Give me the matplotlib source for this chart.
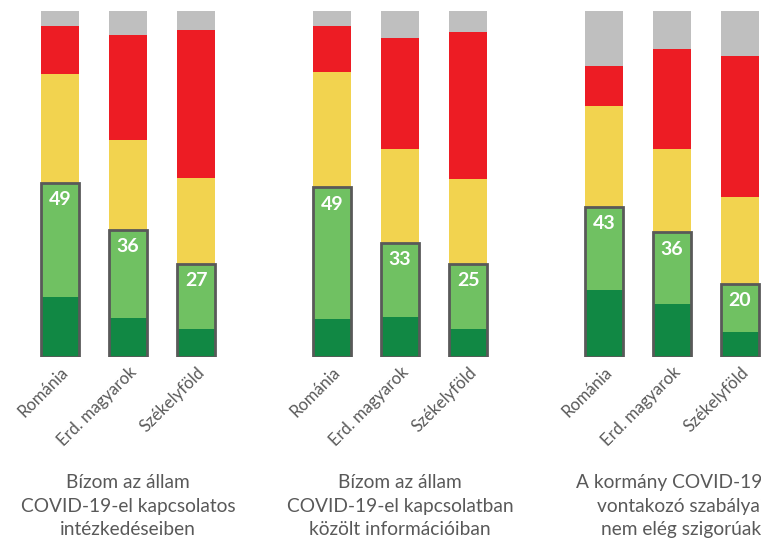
import numpy as np
import matplotlib
matplotlib.use("Agg")
import matplotlib.pyplot as plt

plt.rcParams['font.family'] = ['Lato', 'DejaVu Sans']

categories = ['Románia', 'Erd. magyarok', 'Székelyföld']
titles = ['Bízom az állam\nCOVID-19-el kapcsolatos\nintézkedéseiben',
          'Bízom az állam\nCOVID-19-el kapcsolatban\nközölt információiban',
          'A kormány COVID-19-re\nvontakozó szabályai\nnem elég szigorúak']

# percentages, 9 bars (3 questions x 3 groups)
dark_green = [17.3, 11.4, 8.1, 11.0, 11.7, 8.1, 19.4, 15.4, 7.2]
light_green = [33.1, 25.3, 18.8, 38.0, 21.3, 18.8, 24.0, 20.6, 14.0]
yellow = [31.3, 26.0, 24.7, 33.4, 27.0, 24.6, 29.2, 24.1, 25.0]
red = [14.0, 30.5, 43.0, 13.3, 32.1, 42.5, 11.5, 28.9, 40.7]
grey = [4.3, 6.8, 5.4, 4.3, 7.9, 6.0, 15.9, 11.0, 13.1]
green_labels = [49, 36, 27, 49, 33, 25, 43, 36, 20]

c_dark = '#118844'
c_light = '#70c162'
c_yellow = '#f2d34f'
c_red = '#ed1c24'
c_grey = '#bfbfbf'
c_text = '#595959'

x = np.array([0, 1, 2, 4, 5, 6, 8, 9, 10])
w = 0.56

fig = plt.figure(figsize=(7.61, 5.49), dpi=100)
ax = fig.add_axes([0, 192 / 549, 1, 346 / 549])

dk = np.array(dark_green)
lt = np.array(light_green)
ye = np.array(yellow)
rd = np.array(red)
gr = np.array(grey)

ax.bar(x, dk, w, color=c_dark)
ax.bar(x, lt, w, bottom=dk, color=c_light)
ax.bar(x, ye, w, bottom=dk + lt, color=c_yellow)
ax.bar(x, rd, w, bottom=dk + lt + ye, color=c_red)
ax.bar(x, gr, w, bottom=dk + lt + ye + rd, color=c_grey)
# outline round the green part
ax.bar(x, dk + lt, w, fill=False, edgecolor=c_text, linewidth=2)

for xi, top, lab in zip(x, dk + lt, green_labels):
    ax.text(xi, top - 4.9, str(lab), ha='center', va='center',
            color='white', fontsize=14, fontweight='bold')

ax.set_xlim(-60 / 68, (761 - 60) / 68)
ax.set_ylim(0, 100)
ax.set_xticks(x)
ax.set_xticklabels(categories * 3, rotation=45, ha='right',
                   rotation_mode='anchor', color=c_text, fontsize=12)
ax.tick_params(axis='x', length=0, pad=5)
ax.set_yticks([])
for s in ax.spines.values():
    s.set_visible(False)

title_x = [1, 5, 9.13]
for tx, t in zip(title_x, titles):
    ax.text(tx, -43.1, t, ha='center', va='center', color=c_text,
            fontsize=13.8, linespacing=1.45)

fig.savefig('out.png', dpi=100)
